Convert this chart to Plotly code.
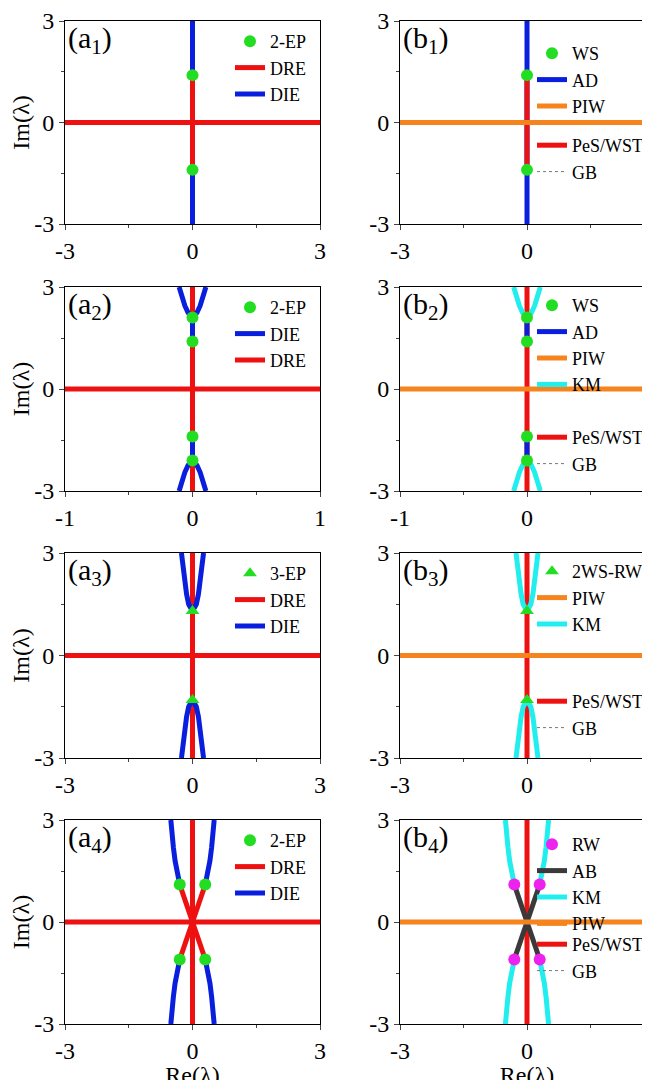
import plotly.graph_objects as go

# ---- data ----
ep1_y = [1.4, -1.4]
ep2_y = [2.1, 1.4, -1.4, -2.1]
ep3_y = [1.3, -1.3]
ep4_x = [-0.3, 0.3, -0.3, 0.3]
ep4_y = [1.1, 1.1, -1.1, -1.1]
# branch shapes (upper right half; mirrored by sign)
br2_x = [0.0, 0.035, 0.06, 0.08, 0.095, 0.105]
br2_y = [2.1, 2.25, 2.45, 2.65, 2.85, 3.0]
br3_x = [0.0, 0.09, 0.14, 0.18, 0.22, 0.26]
br3_y = [1.3, 1.5, 1.8, 2.2, 2.6, 3.0]
in4_x = [0.0, 0.08, 0.16, 0.23, 0.3]
in4_y = [0.0, 0.3, 0.6, 0.85, 1.1]
out4_x = [0.3, 0.36, 0.41, 0.45, 0.48, 0.51]
out4_y = [1.1, 1.4, 1.8, 2.2, 2.6, 3.0]

RED = '#ee1111'; BLUE = '#0a1fdd'; ORANGE = '#f5841f'; CYAN = '#22eeee'
GREEN = '#22dd22'; MAG = '#ee22ee'; DARK = '#3a3a3a'
W = 5
FONT = 'Liberation Serif'

fig = go.Figure()
xpx = [(57, 312), (392, 646)]
ypx = [(13, 216), (279, 483), (545, 750), (812, 1016)]
xr = [3, 1, 3, 3]

def dom(p, tot): return p / tot

def axes_id(r, c):
    n = r * 2 + c + 1
    return ('x' if n == 1 else f'x{n}'), ('y' if n == 1 else f'y{n}'), n

def add(r, c, x, y, color, name=None, leg=None, mode='lines', marker=None, rank=None, width=W, dash=None):
    xa, ya, n = axes_id(r, c)
    kw = dict(x=x, y=y, xaxis=xa, yaxis=ya, mode=mode, showlegend=name is not None, name=name)
    if mode == 'lines':
        kw['line'] = dict(color=color, width=width, dash=dash)
    else:
        kw['marker'] = marker
    if leg: kw['legend'] = leg
    if rank: kw['legendrank'] = rank
    fig.add_trace(go.Scatter(**kw))

def mirror_branches(r, c, bx, by, color):
    for sx in (1, -1):
        for sy in (1, -1):
            add(r, c, [sx * v for v in bx], [sy * v for v in by], color)

def dots(r, c, x, y, color, name, leg, sym='circle', rank=1):
    add(r, c, x, y, None, name, leg, mode='markers', marker=dict(color=color, size=12, symbol=sym), rank=rank)

def legline(r, c, color, name, leg, rank, width=W, dash=None):
    add(r, c, [None], [None], color, name, leg, rank=rank, width=width, dash=dash)

# a1
add(0, 0, [0, 0], [-3, 3], BLUE)
add(0, 0, [0, 0], [-1.4, 1.4], RED)
add(0, 0, [-3, 3], [0, 0], RED)
dots(0, 0, [0, 0], ep1_y, GREEN, '2-EP', 'legend')
legline(0, 0, RED, 'DRE', 'legend', 2); legline(0, 0, BLUE, 'DIE', 'legend', 3)
# b1
add(0, 1, [0, 0], [-3, 3], BLUE)
add(0, 1, [0, 0], [-1.4, 1.4], RED)
add(0, 1, [-3, 3], [0, 0], ORANGE)
dots(0, 1, [0, 0], ep1_y, GREEN, 'WS', 'legend2')
legline(0, 1, BLUE, 'AD', 'legend2', 2); legline(0, 1, ORANGE, 'PIW', 'legend2', 3)
legline(0, 1, RED, 'PeS/WST', 'legend3', 1); legline(0, 1, '#777', 'GB', 'legend3', 2, width=1, dash='dot')
# a2
add(1, 0, [0, 0], [-3, 3], RED)
add(1, 0, [0, 0], [1.4, 2.1], BLUE); add(1, 0, [0, 0], [-2.1, -1.4], BLUE)
mirror_branches(1, 0, br2_x, br2_y, BLUE)
add(1, 0, [-1, 1], [0, 0], RED)
dots(1, 0, [0] * 4, ep2_y, GREEN, '2-EP', 'legend4')
legline(1, 0, BLUE, 'DIE', 'legend4', 2); legline(1, 0, RED, 'DRE', 'legend4', 3)
# b2
add(1, 1, [0, 0], [-3, 3], RED)
add(1, 1, [0, 0], [1.4, 2.1], BLUE); add(1, 1, [0, 0], [-2.1, -1.4], BLUE)
mirror_branches(1, 1, br2_x, br2_y, CYAN)
add(1, 1, [-1, 1], [0, 0], ORANGE)
dots(1, 1, [0] * 4, ep2_y, GREEN, 'WS', 'legend5')
legline(1, 1, BLUE, 'AD', 'legend5', 2); legline(1, 1, ORANGE, 'PIW', 'legend5', 3); legline(1, 1, CYAN, 'KM', 'legend5', 4)
legline(1, 1, RED, 'PeS/WST', 'legend6', 1); legline(1, 1, '#777', 'GB', 'legend6', 2, width=1, dash='dot')
# a3
add(2, 0, [0, 0], [-3, 3], RED)
mirror_branches(2, 0, br3_x, br3_y, BLUE)
add(2, 0, [-3, 3], [0, 0], RED)
dots(2, 0, [0, 0], ep3_y, GREEN, '3-EP', 'legend7', sym='triangle-up')
legline(2, 0, RED, 'DRE', 'legend7', 2); legline(2, 0, BLUE, 'DIE', 'legend7', 3)
# b3
add(2, 1, [0, 0], [-3, 3], RED)
mirror_branches(2, 1, br3_x, br3_y, CYAN)
add(2, 1, [-3, 3], [0, 0], ORANGE)
dots(2, 1, [0, 0], ep3_y, GREEN, '2WS-RW', 'legend8', sym='triangle-up')
legline(2, 1, ORANGE, 'PIW', 'legend8', 2); legline(2, 1, CYAN, 'KM', 'legend8', 3)
legline(2, 1, RED, 'PeS/WST', 'legend9', 1); legline(2, 1, '#777', 'GB', 'legend9', 2, width=1, dash='dot')
# a4
add(3, 0, [0, 0], [-3, 3], RED)
mirror_branches(3, 0, out4_x, out4_y, BLUE)
mirror_branches(3, 0, in4_x, in4_y, RED)
add(3, 0, [-3, 3], [0, 0], RED)
dots(3, 0, ep4_x, ep4_y, GREEN, '2-EP', 'legend10')
legline(3, 0, RED, 'DRE', 'legend10', 2); legline(3, 0, BLUE, 'DIE', 'legend10', 3)
# b4
add(3, 1, [0, 0], [-3, 3], RED)
mirror_branches(3, 1, out4_x, out4_y, CYAN)
mirror_branches(3, 1, in4_x, in4_y, DARK)
add(3, 1, [-3, 3], [0, 0], ORANGE)
dots(3, 1, ep4_x, ep4_y, MAG, 'RW', 'legend11')
legline(3, 1, DARK, 'AB', 'legend11', 2); legline(3, 1, CYAN, 'KM', 'legend11', 3); legline(3, 1, ORANGE, 'PIW', 'legend11', 4)
legline(3, 1, RED, 'PeS/WST', 'legend12', 1); legline(3, 1, '#777', 'GB', 'legend12', 2, width=1, dash='dot')

layout = dict(width=650, height=1080, margin=dict(l=0, r=0, t=0, b=0),
              plot_bgcolor='white', paper_bgcolor='white', font=dict(family=FONT, color='black'))
labels = ['a', 'b']
ann = []
for r in range(4):
    for c in range(2):
        xa, ya, n = axes_id(r, c)
        rng = xr[r]
        ax = dict(domain=[dom(xpx[c][0], 650), dom(xpx[c][1], 650)], range=[-rng, rng],
                  tickvals=[-rng, 0, rng], ticktext=[str(-rng), '0', str(rng)],
                  ticks='outside', ticklen=5, showline=True, linecolor='black', linewidth=1, mirror=True,
                  showgrid=False, zeroline=False, tickfont=dict(size=24, family=FONT), automargin=False,
                  minor=dict(ticks='outside', ticklen=3, dtick=rng / 2, tick0=-rng),
                  anchor=ya)
        if r == 3:
            ax['title'] = dict(text='Re(λ)', font=dict(size=24, family=FONT), standoff=2)
        yb = 1 - ypx[r][1] / 1080; yt = 1 - ypx[r][0] / 1080
        ay = dict(domain=[yb, yt], range=[-3, 3], tickvals=[-3, 0, 3], ticktext=['-3', '0', '3'],
                  ticks='outside', ticklen=5, showline=True, linecolor='black', linewidth=1, mirror=True,
                  showgrid=False, zeroline=False, tickfont=dict(size=24, family=FONT), automargin=False,
                  minor=dict(ticks='outside', ticklen=3, dtick=1.5, tick0=-3), anchor=xa)
        if c == 0:
            ay['title'] = dict(text='Im(λ)', font=dict(size=24, family=FONT), standoff=2)
        layout['xaxis' if n == 1 else f'xaxis{n}'] = ax
        layout['yaxis' if n == 1 else f'yaxis{n}'] = ay
        ann.append(dict(text=f'({labels[c]}<sub>{r + 1}</sub>)', xref='paper', yref='paper',
                        x=(xpx[c][0] + 1) / 650, y=yt + 2 / 1080, xanchor='left', yanchor='top',
                        showarrow=False, font=dict(size=30, family=FONT)))

def legdict(xp, yp):
    return dict(x=xp / 650, y=1 - yp / 1080, xanchor='left', yanchor='top', bgcolor='rgba(0,0,0,0)',
                font=dict(size=18, family=FONT), itemwidth=30, tracegroupgap=0, traceorder='normal')

a_leg = ['legend', 'legend4', 'legend7', 'legend10']
b_leg1 = ['legend2', 'legend5', 'legend8', 'legend11']
b_leg2 = ['legend3', 'legend6', 'legend9', 'legend12']
b1_off = [14, 0, 0, 6]
b2_off = [106, 132, 130, 106]
for r in range(4):
    top = ypx[r][0]
    layout[a_leg[r]] = legdict(222, top + 2)
    layout[b_leg1[r]] = legdict(524, top + b1_off[r])
    layout[b_leg2[r]] = legdict(524, top + b2_off[r])
layout['annotations'] = ann
fig.update_layout(**layout)
fig.write_html('out.html')
